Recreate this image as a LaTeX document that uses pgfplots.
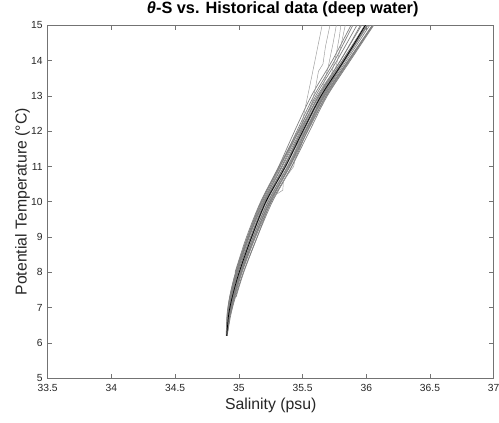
\documentclass[border=0pt]{standalone}
\usepackage{fontspec}
\setmainfont{Liberation Sans}
\usepackage{pgfplots}
\usepackage{pgfplotstable}
\pgfplotsset{compat=1.18}

\pgfplotstableread{
T     k      g1     g2     g3     g4     g5     g6     g7     g8     g9     g10    g11    g12    g13    g14    g15    g16    g17    g18
6.2  34.905 nan    34.903 34.907 nan    34.905 34.901 nan    34.908 nan    34.906 34.904 nan    34.902 34.905 nan    34.907 nan    34.903
6.8  34.920 nan    34.912 34.930 34.934 34.924 34.907 nan    34.937 34.922 34.927 34.917 nan    34.910 34.930 34.914 34.932 34.925 34.918
7.3  34.948 34.936 34.933 34.960 34.968 34.953 34.928 nan    34.973 34.940 34.958 34.940 34.978 34.928 34.963 34.936 34.963 34.952 34.945
8    35.002 34.980 34.980 35.015 35.025 35.008 34.975 34.970 35.035 34.988 35.012 34.992 35.038 34.975 35.020 34.985 35.020 35.005 34.995
9    35.100 35.074 35.078 35.122 35.131 35.111 35.067 35.060 35.144 35.082 35.113 35.091 35.144 35.069 35.122 35.078 35.126 35.103 35.094
10   35.212 35.185 35.191 35.239 35.255 35.227 35.175 35.171 35.263 35.195 35.231 35.205 35.251 35.179 35.243 35.199 35.245 35.217 35.207
11   35.365 35.325 35.335 35.395 35.415 35.381 35.321 35.315 35.415 35.341 35.385 35.353 35.393 35.313 35.401 35.357 35.397 35.369 35.355
12   35.502 35.455 35.468 35.536 35.554 35.518 35.473 35.464 35.536 35.482 35.525 35.493 35.522 35.437 35.540 35.500 35.525 35.508 35.488
13   35.645 35.589 35.603 35.682 35.694 35.664 35.632 35.615 35.665 35.626 35.674 35.640 35.671 35.569 35.688 35.647 35.657 35.652 35.625
14   35.825 35.752 35.770 35.863 35.875 35.845 35.815 35.797 35.830 35.812 35.860 35.823 35.857 35.733 35.869 35.827 35.824 35.833 35.797
15   35.993 35.894 35.926 36.052 36.058 36.027 35.993 35.954 36.005 35.991 36.047 36.005 36.048 35.880 36.052 36.007 35.988 36.013 35.963
15.6 36.095 35.975 36.017 36.164 36.171 36.136 36.101 36.048 36.112 36.098 36.160 36.115 36.164 35.964 36.164 36.115 36.087 36.122 36.062
}\data

\definecolor{axgray}{gray}{0.45}
\definecolor{txtgray}{gray}{0.15}
\definecolor{linegray}{gray}{0.5}

\begin{document}
\begin{tikzpicture}
\useasboundingbox (-47.7pt,-44.7pt) rectangle (451.3pt,378.3pt);
\begin{axis}[
  at={(0pt,0pt)}, anchor=south west,
  scale only axis, width=446pt, height=353pt,
  xmin=33.5, xmax=37, ymin=5, ymax=15,
  xtick={33.5,34,34.5,35,35.5,36,36.5,37},
  ytick={5,6,7,8,9,10,11,12,13,14,15},
  tick align=inside, major tick length=4.5pt,
  axis line style={axgray, line width=0.6pt},
  every tick/.style={axgray, line width=0.6pt},
  /pgf/number format/assume math mode=true,
  tick label style={font=\fontsize{10.3}{12}\selectfont, text=txtgray, inner sep=0pt},
  xticklabel style={anchor=base, yshift=-13.5pt},
  yticklabel style={anchor=east, xshift=-5pt},
  xlabel={Salinity (psu)},
  ylabel={Potential Temperature (°C)},
  label style={font=\fontsize{15.8}{18}\selectfont, text=txtgray, inner sep=0pt},
  xlabel style={at={(axis description cs:0.5,-0.0878)}, anchor=base},
  ylabel style={at={(axis description cs:-0.0471,0.5)}, anchor=base},
  title={\textit{θ}-S vs. Historical data (deep water)},
  title style={font=\fontsize{16.3}{19}\selectfont\bfseries, inner sep=0pt,
    at={(axis description cs:0.527,1.0164)}, anchor=base},
  unbounded coords=jump,
  clip=true,
]
\pgfplotsinvokeforeach{g1,g2,g3,g4,g5,g6,g7,g8,g9,g10,g11,g12,g13,g14,g15,g16,g17,g18}{
  \addplot[linegray, line width=0.7pt, smooth, tension=0.5] table[x=#1, y=T] {\data};
}
% outliers (thin, lighter)
\addplot[gray!80, line width=0.45pt] coordinates {(35.47,11.9) (35.500,12.3) (35.575,13.6) (35.650,14.94) (35.665,15.3)};
\addplot[gray!80, line width=0.45pt] coordinates {(35.50,11.9) (35.54,12.3) (35.60,13.2) (35.625,13.7) (35.66,13.9) (35.68,14.4) (35.715,15.0) (35.73,15.3)};
\addplot[gray!80, line width=0.45pt] coordinates {(35.64,13.0) (35.70,13.8) (35.74,14.5) (35.765,15.0) (35.78,15.3)};
\addplot[gray!80, line width=0.45pt] coordinates {(35.72,13.5) (35.765,14.2) (35.79,14.7) (35.80,15.0) (35.81,15.2)};
\addplot[gray!80, line width=0.45pt] coordinates {(35.76,13.8) (35.80,14.4) (35.835,15.0) (35.85,15.3)};
\addplot[gray!80, line width=0.45pt] coordinates {(35.215,10.0) (35.29,10.2) (35.345,10.33) (35.35,10.6) (35.39,10.8) (35.43,11.0) (35.445,11.26) (35.46,11.5) (35.50,11.9) (35.52,12.2)};
\addplot[gray!80, line width=0.45pt] coordinates {(35.30,10.5) (35.34,10.6) (35.335,10.75) (35.38,10.9) (35.40,11.1) (35.44,11.4) (35.46,11.6) (35.50,12.0)};
% black line
\addplot[black, line width=0.7pt, smooth, tension=0.5] table[x=k, y=T] {\data};
\end{axis}
\end{tikzpicture}
\end{document}
